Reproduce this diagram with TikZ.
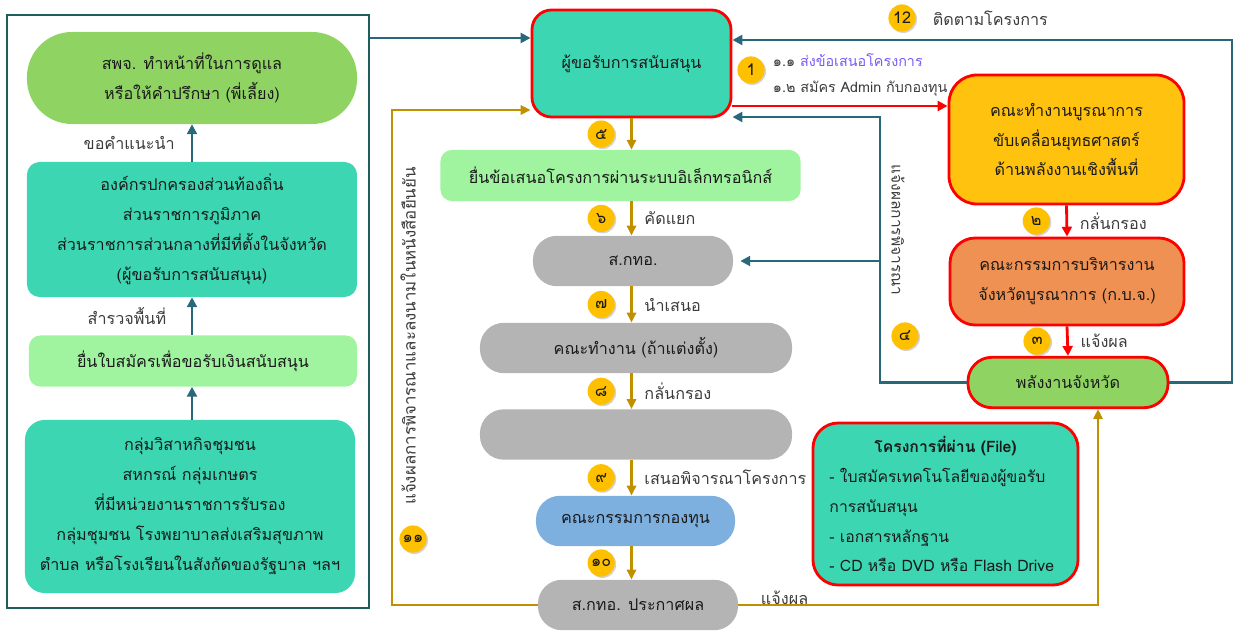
\documentclass[tikz,border=0pt]{standalone}
\usepackage{fontspec}
\setmainfont[Script=Thai]{Loma}
\usepackage{tikz}
\usetikzlibrary{arrows.meta, positioning, calc, shadows}
\definecolor{FrameTeal}{HTML}{1E5E5C}
\definecolor{FlowTeal}{HTML}{27697A}
\definecolor{GoldLine}{HTML}{C09000}
\definecolor{AlertRed}{HTML}{FF0000}
\definecolor{SeaTeal}{HTML}{3CD6B2}
\definecolor{LeafGreen}{HTML}{8FD462}
\definecolor{MintGreen}{HTML}{A0F4A0}
\definecolor{StoneGray}{HTML}{B4B4B4}
\definecolor{SkyBlue}{HTML}{7DAFDF}
\definecolor{AmberFill}{HTML}{FFC20E}
\definecolor{OrangeFill}{HTML}{EF9152}
\definecolor{BadgeGold}{HTML}{FFC000}
\definecolor{InkGray}{HTML}{1A1A1A}
\definecolor{LinkViolet}{HTML}{7A5AF8}

\tikzset{
    box/.style={align=center, inner sep=2pt, text=InkGray},
    pill/.style={box, rounded corners=17pt, minimum height=1.26cm},
    tealflow/.style={draw=FlowTeal, line width=2pt, -{Triangle[length=7pt,width=7pt]}},
    goldflow/.style={draw=GoldLine, line width=1.8pt, -{Triangle[length=7pt,width=6.5pt]}},
    redflow/.style={draw=AlertRed, line width=2pt, -{Triangle[length=7pt,width=7pt]}},
    badge/.style={circle, fill=BadgeGold, minimum size=0.68cm, inner sep=0pt, text=InkGray,
                  font=\fontsize{11.5}{11.5}\selectfont,
                  drop shadow={opacity=0.35, shadow xshift=1pt, shadow yshift=-1pt}},
    steplabel/.style={text=InkGray!85}
}

\begin{document}
\begin{tikzpicture}[x=0.025cm, y=-0.025cm, font=\fontsize{11.5}{21.3}\selectfont]
    \useasboundingbox (0,0) rectangle (1240,630);

    % left panel: who may apply
    \node[draw=FrameTeal, line width=2pt, minimum width=9.05cm, minimum height=14.825cm] (panel) at (188,311.5) {};
    \node[box, fill=LeafGreen, rounded corners=32pt, minimum width=8.25cm, minimum height=2.3cm] (mentor) at (192,78)
        {สพจ. ทำหน้าที่ในการดูแล\\หรือให้คำปรึกษา (พี่เลี้ยง)};
    \node[box, fill=SeaTeal, rounded corners=9pt, minimum width=8.25cm, minimum height=3.375cm] (agency) at (192,229.5)
        {องค์กรปกครองส่วนท้องถิ่น\\ส่วนราชการภูมิภาค\\ส่วนราชการส่วนกลางที่มีที่ตั้งในจังหวัด\\(ผู้ขอรับการสนับสนุน)};
    \node[box, fill=MintGreen, rounded corners=8pt, minimum width=8.2cm, minimum height=1.275cm] (apply) at (193,361)
        {ยื่นใบสมัครเพื่อขอรับเงินสนับสนุน};
    \node[box, fill=SeaTeal, rounded corners=14pt, minimum width=8.25cm, minimum height=4.325cm] (groups) at (190,506.5)
        {กลุ่มวิสาหกิจชุมชน\\สหกรณ์ กลุ่มเกษตร\\ที่มีหน่วยงานราชการรับรอง\\กลุ่มชุมชน โรงพยาบาลส่งเสริมสุขภาพ\\ตำบล หรือโรงเรียนในสังกัดของรัฐบาล ฯลฯ};
    \draw[tealflow] (agency.north -| mentor.south) -- (mentor.south)
        node[midway, left=8pt, steplabel] {ขอคำแนะนำ};
    \draw[tealflow] (apply.north -| mentor.south) -- (agency.south -| mentor.south)
        node[midway, left=14pt, steplabel] {สำรวจพื้นที่};
    \draw[tealflow] (groups.north -| mentor.south) -- (apply.south -| mentor.south);

    % centre column
    \node[box, fill=SeaTeal, draw=AlertRed, line width=2pt, rounded corners=14pt,
          minimum width=4.975cm, minimum height=2.675cm] (seeker) at (631.5,63.5) {ผู้ขอรับการสนับสนุน};
    \node[box, fill=MintGreen, rounded corners=8pt, minimum width=9cm, minimum height=1.275cm] (online) at (620.5,175.5)
        {ยื่นข้อเสนอโครงการผ่านระบบอิเล็กทรอนิกส์};
    \node[pill, fill=StoneGray, minimum width=5cm] (office) at (633,261) {ส.กทอ.};
    \node[pill, fill=StoneGray, minimum width=7.8cm] (team) at (636,348) {คณะทำงาน (ถ้าแต่งตั้ง)};
    \node[pill, fill=StoneGray, minimum width=7.8cm] (blank) at (636,434.5) {};
    \node[pill, fill=SkyBlue, minimum width=4.975cm] (fund) at (635.5,521) {คณะกรรมการกองทุน};
    \node[pill, fill=StoneGray, minimum width=5cm] (announce) at (638,605) {ส.กทอ. ประกาศผล};

    \draw[goldflow] (seeker.south) -- (seeker.south |- online.north)
        node[midway, left=11pt, badge] {๕};
    \draw[goldflow] (seeker.south |- online.south) -- (seeker.south |- office.north)
        node[midway, left=11pt, badge] {๖} node[midway, right=5pt, steplabel] {คัดแยก};
    \draw[goldflow] (seeker.south |- office.south) -- (seeker.south |- team.north)
        node[midway, left=11pt, badge] {๗} node[midway, right=5pt, steplabel] {นำเสนอ};
    \draw[goldflow] (seeker.south |- team.south) -- (seeker.south |- blank.north)
        node[midway, left=11pt, badge] {๘} node[midway, right=5pt, steplabel] {กลั่นกรอง};
    \draw[goldflow] (seeker.south |- blank.south) -- (seeker.south |- fund.north)
        node[midway, left=11pt, badge] {๙} node[midway, right=5pt, steplabel] {เสนอพิจารณาโครงการ};
    \draw[goldflow] (seeker.south |- fund.south) -- (seeker.south |- announce.north)
        node[midway, left=11pt, badge] {๑๐};

    % right column
    \node[box, fill=AmberFill, draw=AlertRed, line width=2pt, rounded corners=20pt,
          minimum width=5.875cm, minimum height=3.225cm] (taskforce) at (1066.5,139.5)
        {คณะทำงานบูรณาการ\\ขับเคลื่อนยุทธศาสตร์\\ด้านพลังงานเชิงพื้นที่};
    \node[box, fill=OrangeFill, draw=AlertRed, line width=2pt, rounded corners=18pt,
          minimum width=5.85cm, minimum height=2.175cm] (board) at (1067,281.5)
        {คณะกรรมการบริหารงาน\\จังหวัดบูรณาการ (ก.บ.จ.)};
    \node[pill, fill=LeafGreen, draw=AlertRed, line width=2pt, minimum width=5cm] (province) at (1068,382.5)
        {พลังงานจังหวัด};
    \node[box, fill=SeaTeal, draw=AlertRed, line width=2pt, rounded corners=18pt,
          minimum width=6.625cm, minimum height=4.05cm, text width=5.8cm, align=left,
          font=\fontsize{11.2}{21.3}\selectfont] (files) at (945.5,504)
        {\makebox[5.8cm]{\bfseries โครงการที่ผ่าน (File)}\\
         \mbox{- ใบสมัครเทคโนโลยีของผู้ขอรับ}\\\mbox{การสนับสนุน}\\\mbox{- เอกสารหลักฐาน}\\\mbox{- CD หรือ DVD หรือ Flash Drive}};

    \draw[redflow] (taskforce.south) -- (board.north)
        node[midway, left=11pt, badge] {๒} node[midway, right=5pt, steplabel] {กลั่นกรอง};
    \draw[redflow] (board.south) -- (province.north)
        node[midway, left=11pt, badge] {๓} node[midway, right=5pt, steplabel] {แจ้งผล};

    % connectors between the columns
    \coordinate (fromPanel) at (0,38);
    \coordinate (toTask) at (0,106);
    \coordinate (backLeft) at (392,110);
    \coordinate (backRight) at (880,117);
    \coordinate (followUp) at (1232,40);
    \coordinate (toProvince) at (1098,605);

    \draw[tealflow] (panel.east |- fromPanel) -- (seeker.west |- fromPanel);
    \draw[redflow] (seeker.east |- toTask) -- (taskforce.west |- toTask);
    \draw[goldflow] (announce.west) -| (backLeft) -- (backLeft -| seeker.west);
    \draw[goldflow] (announce.east) -- (toProvince) -- (toProvince |- province.south);
    \draw[tealflow] (province.west) -| (backRight) -- (backRight -| seeker.east);
    \draw[tealflow] (backRight |- office.east) -- ([xshift=5pt]office.east);
    \draw[tealflow] (province.east) -| (followUp) -- (followUp -| seeker.east);

    % badges and labels on the connectors
    \node[steplabel, anchor=south west] (notice) at (756,610) {แจ้งผล};
    \node[badge] (b1) at (751,70) {1};
    \node[anchor=west, font=\fontsize{10.2}{12}\selectfont, text=InkGray!85] (send) at (768,60)
        {๑.๑ \textcolor{LinkViolet}{ส่งข้อเสนอโครงการ}};
    \node[anchor=west, font=\fontsize{10.2}{12}\selectfont, text=InkGray!85] (admin) at (768,89)
        {๑.๒ สมัคร Admin กับกองทุน};
    \node[badge] (b12) at (902,18) {12};
    \node[anchor=west, steplabel] (track) at (928,18) {ติดตามโครงการ};
    \node[badge] (b4) at (905,336) {๔};
    \node[badge] (b11) at (413,539) {๑๑};
    \node[rotate=90, steplabel, font=\fontsize{12}{12}\selectfont] (confirm) at (408,336) {แจ้งผลการพิจารณาและลงนามในหนังสือยืนยัน};
    \node[rotate=-90, steplabel, font=\fontsize{11}{12}\selectfont] (review) at (898,230) {แจ้งผลการพิจารณา};
\end{tikzpicture}
\end{document}
